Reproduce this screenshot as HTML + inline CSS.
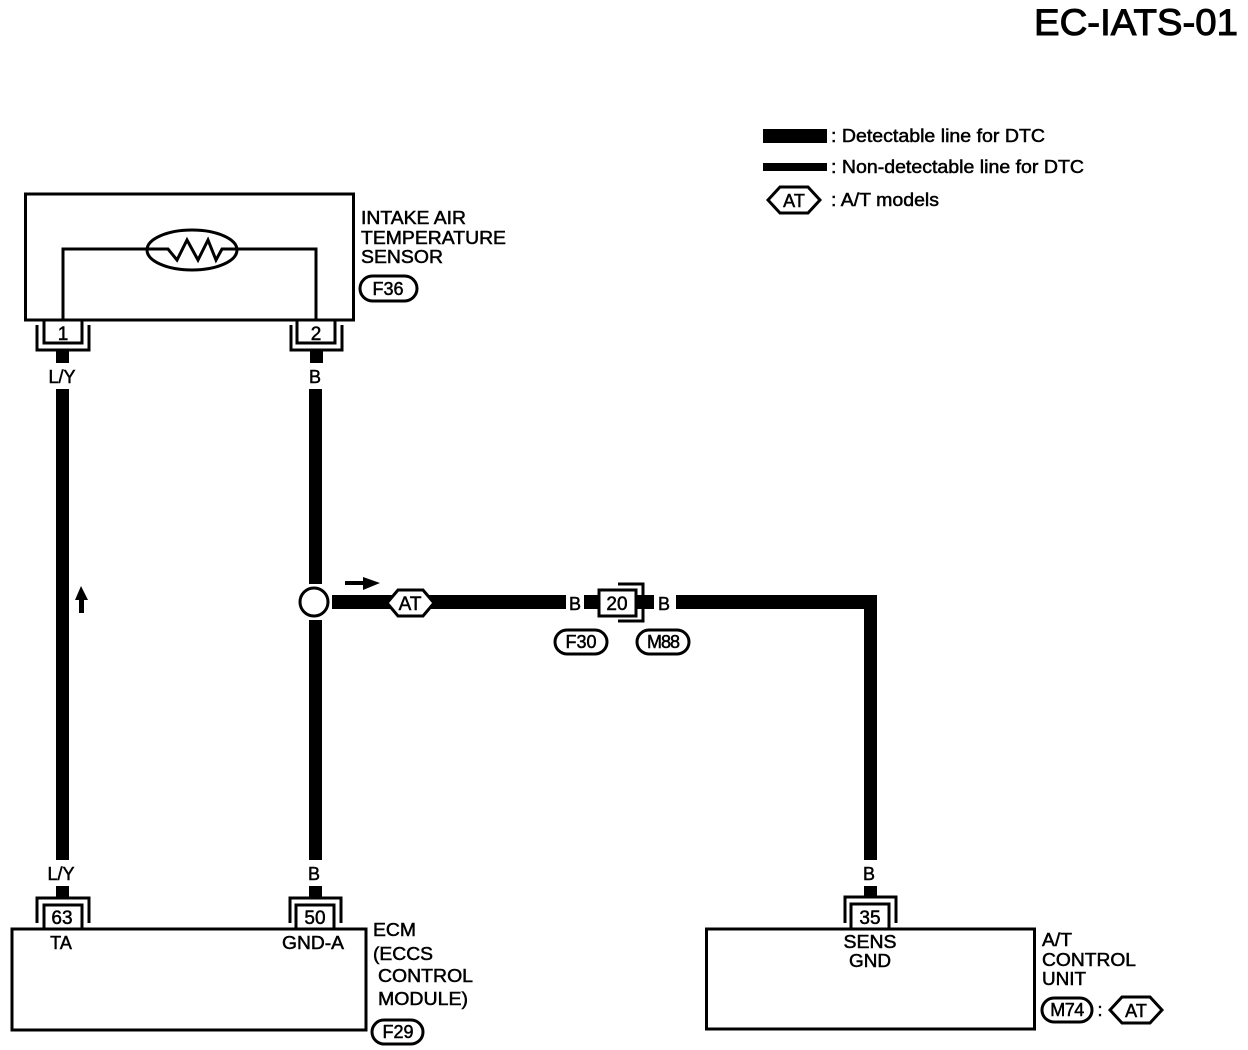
<!DOCTYPE html>
<html>
<head>
<meta charset="utf-8">
<style>
html,body{margin:0;padding:0;background:#fff;width:1248px;height:1050px;overflow:hidden}
svg{display:block}
text{font-family:"Liberation Sans",sans-serif;font-size:18px;fill:#000;stroke:#000;stroke-width:.5px}
.c{text-anchor:middle}
.n{font-size:19px}
.b{fill:none;stroke:#000;stroke-width:3}
.t{fill:none;stroke:#000;stroke-width:3}
</style>
</head>
<body>
<svg width="1248" height="1050" viewBox="0 0 1248 1050" xmlns="http://www.w3.org/2000/svg">
<rect width="1248" height="1050" fill="#fff"/>
<text x="1034" y="35" style="font-size:37px;stroke-width:1px" textLength="204" lengthAdjust="spacingAndGlyphs">EC-IATS-01</text>

<!-- legend -->
<rect x="763" y="129" width="64" height="14"/>
<rect x="763" y="163" width="64" height="8"/>
<polygon class="t" points="768,200 780,187 808,187 820,200 808,213 780,213"/>
<text x="794" y="207" class="c">AT</text>
<text x="831" y="142" textLength="214" lengthAdjust="spacingAndGlyphs">: Detectable line for DTC</text>
<text x="831" y="173" textLength="253" lengthAdjust="spacingAndGlyphs">: Non-detectable line for DTC</text>
<text x="831" y="206" textLength="108" lengthAdjust="spacingAndGlyphs">: A/T models</text>

<!-- sensor -->
<rect class="b" x="25.5" y="194" width="328" height="126"/>
<path class="t" d="M63 320V249H147M237 249H316V320"/>
<ellipse class="t" cx="192" cy="250" rx="45" ry="20"/>
<path class="t" d="M147 249H168L177 260L187 240L198 260L208 240L216 260L222 249H237"/>
<text x="361" y="224" textLength="105" lengthAdjust="spacingAndGlyphs">INTAKE AIR</text>
<text x="361" y="244" textLength="145" lengthAdjust="spacingAndGlyphs">TEMPERATURE</text>
<text x="361" y="263" textLength="82" lengthAdjust="spacingAndGlyphs">SENSOR</text>
<rect class="t" x="360" y="276" width="57" height="25" rx="12.5"/>
<text x="388" y="295" class="c">F36</text>

<!-- top connectors -->
<path class="t" d="M44 320V343H82V320M37 325V350H89V325"/>
<text x="63" y="340" class="c n">1</text>
<path class="t" d="M297 320V343H335V320M291 325V350H342V325"/>
<text x="316" y="340" class="c n">2</text>

<!-- wires -->
<rect x="56" y="350" width="13" height="13"/>
<text x="62" y="383" class="c">L/Y</text>
<rect x="56" y="389" width="13" height="471"/>
<text x="61" y="880" class="c">L/Y</text>
<rect x="56" y="886" width="13" height="12"/>

<rect x="310" y="350" width="13" height="13"/>
<text x="315" y="383" class="c">B</text>
<rect x="309" y="389" width="13" height="195"/>
<circle class="t" cx="314" cy="602" r="14"/>
<rect x="309" y="620" width="13" height="240"/>
<text x="314" y="880" class="c">B</text>
<rect x="309" y="886" width="13" height="12"/>

<rect x="332" y="595" width="234" height="14"/>
<rect x="584" y="595" width="16" height="14"/>
<rect x="634" y="595" width="20" height="14"/>
<rect x="676" y="595" width="201" height="14"/>
<rect x="864" y="595" width="13" height="265"/>
<text x="869" y="880" class="c">B</text>
<rect x="864" y="886" width="13" height="12"/>

<!-- arrows -->
<path d="M345 581H363V577L380 583L363 590V585H345Z"/>
<path d="M79 613V600H75L81 586L88 600H84V613Z"/>

<!-- AT on main -->
<polygon fill="#fff" stroke="#000" stroke-width="3" points="387,603 398,590 423,590 434,603 423,616 398,616"/>
<text x="410" y="610" class="c n">AT</text>

<!-- connector 20 -->
<rect x="599" y="590" width="37" height="26" fill="#fff" stroke="#000" stroke-width="3"/>
<text x="617" y="610" class="c n">20</text>
<path class="t" d="M618 584H643V621H618"/>
<text x="575" y="610" class="c">B</text>
<text x="664" y="610" class="c">B</text>
<rect class="t" x="555" y="630" width="52" height="24" rx="12"/>
<text x="581" y="648" class="c">F30</text>
<rect class="t" x="637" y="630" width="52" height="24" rx="12"/>
<text x="663" y="648" class="c" style="letter-spacing:-1px">M88</text>

<!-- ECM -->
<rect class="b" x="12" y="929" width="354" height="101"/>
<path class="t" d="M44 929V905H82V929M37 923V898H89V923"/>
<text x="62" y="924" class="c n">63</text>
<path class="t" d="M296 929V905H334V929M290 923V898H341V923"/>
<text x="315" y="924" class="c n">50</text>
<text x="61" y="949" class="c">TA</text>
<text x="313" y="949" class="c" textLength="62" lengthAdjust="spacingAndGlyphs">GND-A</text>
<text x="373" y="936" textLength="43" lengthAdjust="spacingAndGlyphs">ECM</text>
<text x="373" y="960" textLength="60" lengthAdjust="spacingAndGlyphs">(ECCS</text>
<text x="378" y="982" textLength="95" lengthAdjust="spacingAndGlyphs">CONTROL</text>
<text x="378" y="1005" textLength="90" lengthAdjust="spacingAndGlyphs">MODULE)</text>
<rect class="t" x="372" y="1020" width="51" height="24" rx="12"/>
<text x="398" y="1038" class="c">F29</text>

<!-- AT unit -->
<rect class="b" x="706.5" y="929" width="328" height="100"/>
<path class="t" d="M851 929V904H889V929M845 923V897H896V923"/>
<text x="870" y="924" class="c n">35</text>
<text x="870" y="948" class="c" textLength="53" lengthAdjust="spacingAndGlyphs">SENS</text>
<text x="870" y="967" class="c" textLength="42" lengthAdjust="spacingAndGlyphs">GND</text>
<text x="1042" y="946" textLength="30" lengthAdjust="spacingAndGlyphs">A/T</text>
<text x="1042" y="966" textLength="94" lengthAdjust="spacingAndGlyphs">CONTROL</text>
<text x="1042" y="985" textLength="44" lengthAdjust="spacingAndGlyphs">UNIT</text>
<rect class="t" x="1042" y="998" width="50" height="24" rx="12"/>
<text x="1067" y="1016" class="c" style="letter-spacing:-.5px">M74</text>
<text x="1100" y="1016" class="c">:</text>
<polygon class="t" points="1110,1010 1122,997 1150,997 1162,1010 1150,1023 1122,1023"/>
<text x="1136" y="1017" class="c">AT</text>
</svg>
</body>
</html>
